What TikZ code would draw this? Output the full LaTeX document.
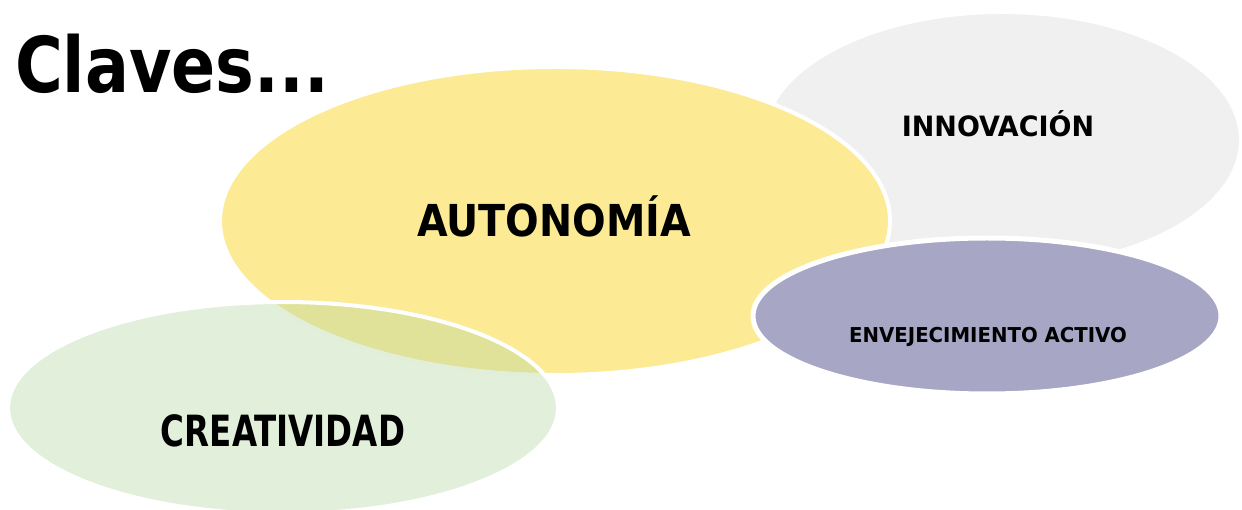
\documentclass[tikz,border=0pt]{standalone}
\usepackage{fontspec}
\setmainfont{DejaVu Sans Condensed}
\usetikzlibrary{shapes.geometric}
\definecolor{cgray}{RGB}{240,240,240}
\definecolor{cyellow}{RGB}{252,234,148}
\definecolor{cgreen}{RGB}{182,215,162}
\definecolor{cpurple}{RGB}{167,166,197}
\tikzset{
  blob/.style={ellipse, inner sep=0pt, draw=white, line width=4pt},
  lbl/.style={font=\bfseries, text=black, inner sep=0pt, anchor=base}
}
\begin{document}
\begin{tikzpicture}[x=1pt,y=-1pt]
\useasboundingbox (0,0) rectangle (1242,510);
\node[blob, fill=cgray, minimum width=478pt, minimum height=256pt] (inno) at (1002,140) {};
\node[blob, fill=cyellow, minimum width=670pt, minimum height=308pt] (auto) at (555,221) {};
\node[blob, fill=cgreen, fill opacity=0.4, minimum width=550pt, minimum height=212pt] (crea) at (283,408) {};
\node[blob, fill=cpurple, line width=5pt, minimum width=468pt, minimum height=156pt] (enve) at (987,316) {};
\node[lbl, font=\bfseries\fontsize{28}{34}\selectfont, xscale=1.07] (tinno) at (998,137) {INNOVACIÓN};
\node[lbl, font=\bfseries\fontsize{44}{52}\selectfont] (tauto) at (554,237) {AUTONOMÍA};
\node[lbl, font=\bfseries\fontsize{43}{50}\selectfont, xscale=0.84] (tcrea) at (283,446) {CREATIVIDAD};
\node[lbl, font=\bfseries\fontsize{20.5}{25}\selectfont, xscale=1.07] (tenve) at (988,343) {ENVEJECIMIENTO ACTIVO};
\node[lbl, font=\bfseries\fontsize{77}{90}\selectfont, anchor=base west, xscale=0.94] (title) at (15,93) {Claves...};
\end{tikzpicture}
\end{document}
